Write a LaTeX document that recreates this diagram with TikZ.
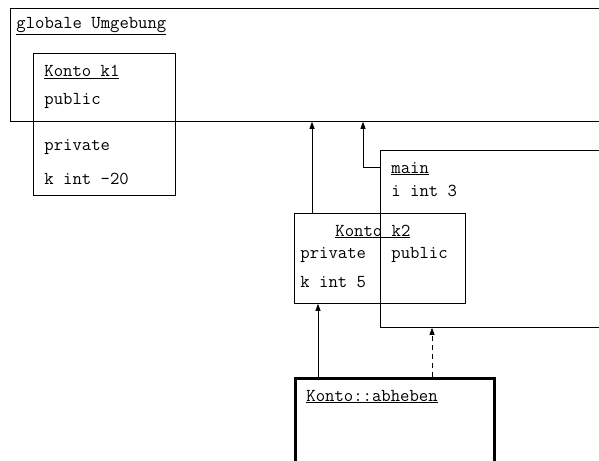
\documentclass[tikz,border=0pt]{standalone}
\usetikzlibrary{arrows.meta}

\begin{document}
\begin{tikzpicture}[x=1pt,y=-1pt,line width=0.8pt,
  box/.style={draw,rectangle,anchor=north west,inner sep=0pt},
  txt/.style={anchor=base west,inner sep=0pt,font=\fontsize{18.2}{21}\selectfont\ttfamily},
  arr/.style={-{Triangle[length=7pt,width=5pt]}}]

  \useasboundingbox (0,0) rectangle (599,460);
  \clip (0,0) rectangle (599,460);

  % environments
  \node[box,minimum width=620pt,minimum height=113pt] (glob) at (10,8) {};
  \node[box,minimum width=142pt,minimum height=142pt] (k1) at (33,53) {};
  \node[box,minimum width=240pt,minimum height=177pt] (main) at (380,150) {};
  \node[box,minimum width=171pt,minimum height=90pt] (k2) at (294,213) {};
  \node[box,line width=2.5pt,minimum width=199pt,minimum height=120pt] (ab) at (294,377) {};

  \node[txt] (glob-t) at (16,29) {\underline{globale Umgebung}};
  \node[txt] (k1-t) at (44,77) {\underline{Konto k1}};
  \node[txt] (k1-pub) at (44,104) {public};
  \node[txt] (k1-priv) at (44,150) {private};
  \node[txt] (k1-k) at (44,184) {k int -20};
  \node[txt] (main-t) at (391,173) {\underline{main}};
  \node[txt] (main-i) at (391,196) {i int 3};
  \node[txt] (k2-t) at (335,236) {\underline{Konto k2}};
  \node[txt] (k2-priv) at (300,258) {private};
  \node[txt] (k2-pub) at (391,258) {public};
  \node[txt] (k2-k) at (300,287) {k int 5};
  \node[txt] (ab-t) at (306,401) {\underline{Konto::abheben}};

  % links
  \draw[arr] ([xshift=18pt]k2.north west) -- ([xshift=18pt]k2.north west |- glob.south);
  \draw[arr] ([yshift=-17pt]main.north west) -- ++(-17,0) coordinate (m1) -- (m1 |- glob.south);
  \draw[arr] ([xshift=24pt]ab.north west) -- ([xshift=24pt]ab.north west |- k2.south);
  \draw[arr,dash pattern=on 5pt off 4pt] ([xshift=138pt]ab.north west) -- ([xshift=138pt]ab.north west |- main.south);
\end{tikzpicture}
\end{document}
